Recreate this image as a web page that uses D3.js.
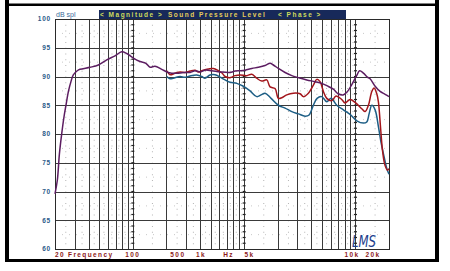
<!DOCTYPE html>
<html>
<head>
<meta charset="utf-8">
<script src="https://cdn.jsdelivr.net/npm/d3@7"></script>
<style>
body { margin:0; background:#fff; }
svg { display:block; }
text { font-family: "Liberation Sans", Arial, sans-serif; }
</style>
</head>
<body>
<svg id="chart" width="450" height="271"></svg>
<script>
window.addEventListener("load", run);

// y axis (dB spl)
var yTicks = [60,65,70,75,80,85,90,95,100];

// bottom labels, and the frequency each one sits over
var xLabels    = ["20","Frequency","100","500","1k","Hz","5k","10k","20k"];
var xLabelFreq = [22.2,41.9,100,254,410,724,1118,9320,14400];

var titleParts = ["< Magnitude >","Sound Pressure Level","< Phase >"];

// purple: full range
var purpleFreq = [20,21.0,21.9,23.0,24.1,25.1,26.4,27.9,29.2,31.7,33.5,41.3,49.0,58.3,69.2,79.5,88.2,101,116,131,
                  143,158,182,208,248,284,327,362,402,445,512,608,747,829,919,1019,1171,1342,1541,1709,
                  1830,2030,2332,2678,3070,3652,4336,4980,5524,6330,6978,7738,8404,9266,10272,10886,11776,12794,13528,15006,
                  16636,18452,20000];
var purpleDb   = [69.6,72.0,76.5,80.1,83.0,85.0,87.4,89.2,90.3,91.0,91.25,91.6,92.0,92.9,93.6,94.3,94.0,93.2,92.6,92.3,
                  91.6,91.8,91.25,90.7,90.55,90.7,90.7,91.0,90.8,91.1,91.0,90.8,90.7,90.95,91.0,91.1,91.4,91.6,91.9,92.3,
                  92.0,91.4,90.7,90.15,89.8,89.4,89.1,88.8,88.4,87.8,87.0,86.8,87.3,88.6,90.2,91.0,90.6,89.9,89.6,88.3,
                  87.4,86.9,86.5];

// red: from 200 Hz
var redFreq = [202,216,239,266,294,327,362,388,430,477,529,587,633,674,747,829,919,1055,1171,1298,
               1439,1597,1709,1895,2030,2177,2414,2768,3178,3404,3774,4186,4492,4808,5148,5524,6126,6694,7532,8066,
               8946,9920,11392,12202,13064,14016,14696,15540,16064,16810,17520,18452,19428,20000];
var redDb   = [91.0,90.3,90.55,90.8,90.7,90.95,91.1,90.8,91.1,91.3,91.4,91.0,90.6,90.0,89.8,90.15,90.26,90.15,90.4,89.7,
               89.2,89.4,88.2,87.9,86.2,86.3,86.8,87.1,87.0,86.5,87.1,88.5,89.5,89.1,87.4,86.2,85.8,86.6,86.0,85.4,
               86.0,85.5,84.4,83.9,85.0,87.4,88.0,87.0,85.6,81.0,77.0,74.5,73.7,74.0];

// blue: from 200 Hz
var blueFreq = [202,216,231,266,294,327,375,416,445,494,548,608,674,747,858,984,1130,1298,1419,1541,
                1745,2030,2332,2678,3070,3526,3830,4186,4518,4980,5524,6036,6792,7786,8946,10272,11776,12632,13250,14016,
                15006,16064,16984,17812,19110,20000];
var blueDb   = [90.0,89.6,89.7,90.0,89.85,90.1,90.26,90.0,89.7,90.26,90.3,89.9,89.4,89.0,88.8,88.3,87.5,86.5,86.8,87.1,
                86.2,85.0,84.5,83.9,83.5,83.1,83.3,85.0,86.2,86.5,85.6,86.2,85.0,84.2,83.4,82.3,81.9,82.1,83.5,85.0,
                84.2,81.3,78.5,76.6,74.0,73.0];

function run() {
	var svg = d3.select("#chart");

	var left = 55, right = 389, top = 19, bottom = 249;

	var x = d3.scaleLog().domain([20,20000]).range([left,right]);
	var y = d3.scaleLinear().domain([60,100]).range([bottom,top]);

	// outer black frame
	svg.append("rect").attr("x",5).attr("y",0).attr("width",4).attr("height",262).style("fill","#000");
	svg.append("rect").attr("x",435).attr("y",0).attr("width",4).attr("height",262).style("fill","#000");
	svg.append("rect").attr("x",5).attr("y",3.5).attr("width",434).attr("height",2.5).style("fill","#000");
	svg.append("rect").attr("x",5).attr("y",259).attr("width",434).attr("height",3).style("fill","#000");

	// grid frequencies
	var solid = [], dotted = [], decades = [100,1000,10000];
	[10,100,1000,10000].forEach(function(d){
		for (var m = 1; m <= 9; m++) {
			if (m*d >= 20 && m*d <= 20000) solid.push(m*d);
			if ((m+0.5)*d > 20 && (m+0.5)*d < 20000) dotted.push((m+0.5)*d);
		}
	});

	var grid = svg.append("g");

	// dotted minor grid
	grid.selectAll(".vdot").data(dotted).enter().append("line")
		.attr("x1",function(d){return x(d);}).attr("x2",function(d){return x(d);})
		.attr("y1",top).attr("y2",bottom)
		.style("stroke","#b4b4b4").style("stroke-width",1)
		.style("stroke-dasharray","1,4.75");

	var halfDb = d3.range(62.5,100,5);
	grid.selectAll(".hdot").data(halfDb).enter().append("line")
		.attr("x1",left).attr("x2",right)
		.attr("y1",function(d){return y(d);}).attr("y2",function(d){return y(d);})
		.style("stroke","#c8c8c8").style("stroke-width",1)
		.style("stroke-dasharray","1,6");

	// solid grid
	grid.selectAll(".vsolid").data(solid).enter().append("line")
		.attr("x1",function(d){return Math.round(x(d))+0.5;}).attr("x2",function(d){return Math.round(x(d))+0.5;})
		.attr("y1",top).attr("y2",bottom)
		.style("stroke","#3a3a3a").style("stroke-width",1);

	grid.selectAll(".hsolid").data(yTicks).enter().append("line")
		.attr("x1",left).attr("x2",right)
		.attr("y1",function(d){return Math.round(y(d))+0.5;}).attr("y2",function(d){return Math.round(y(d))+0.5;})
		.style("stroke","#3a3a3a").style("stroke-width",1);

	// decade lines get 1 dB tick marks
	var dbSteps = d3.range(61,100,1);
	decades.forEach(function(f){
		grid.selectAll(null).data(dbSteps).enter().append("line")
			.attr("x1",x(f)-1.5).attr("x2",x(f)+1.5)
			.attr("y1",function(d){return y(d);}).attr("y2",function(d){return y(d);})
			.style("stroke","#222").style("stroke-width",1.2);
	});

	// plot border
	svg.append("rect")
		.attr("x",left+0.5).attr("y",top+0.5)
		.attr("width",right-left).attr("height",bottom-top)
		.style("fill","none").style("stroke","#2a2a2a").style("stroke-width",1);

	// curves
	var line = d3.line()
		.x(function(d){return x(d[0]);})
		.y(function(d){return y(d[1]);})
		.curve(d3.curveCatmullRom.alpha(0.5));

	var series = [
		{f: blueFreq, v: blueDb, c: "#1d5e85"},
		{f: redFreq, v: redDb, c: "#a3161c"},
		{f: purpleFreq, v: purpleDb, c: "#5c1d61"}
	];
	series.forEach(function(s){
		svg.append("path")
			.datum(d3.zip(s.f, s.v))
			.attr("d", line)
			.style("fill","none")
			.style("stroke", s.c)
			.style("stroke-width",1.5)
			.style("stroke-linejoin","round");
	});

	// y tick labels
	svg.selectAll(".ylab").data(yTicks).enter().append("text")
		.attr("x",51)
		.attr("y",function(d){return y(d);})
		.attr("dy","0.35em")
		.style("text-anchor","end")
		.style("font-size","6.5px")
		.style("font-weight","bold")
		.style("letter-spacing","0.8px")
		.style("fill","#2b5a88")
		.text(function(d){return d;});

	// x labels
	svg.selectAll(".xlab").data(xLabels).enter().append("text")
		.attr("x",function(d,i){return x(xLabelFreq[i]);})
		.attr("y",257)
		.style("text-anchor","middle")
		.style("font-size","6.5px")
		.style("font-weight","bold")
		.style("letter-spacing","1.4px")
		.style("fill","#8e1a1a")
		.text(function(d){return d;});

	// unit label
	svg.append("text")
		.attr("x",56).attr("y",16.5)
		.style("font-size","7px")
		.style("fill","#3d6a9a")
		.text("dB spl");

	// title bar
	svg.append("rect")
		.attr("x",99).attr("y",10)
		.attr("width",247).attr("height",9)
		.style("fill","#17295a");

	var titleX = [100,168,278];
	var titleCol = ["#cfdc5c","#e6cf5a","#cfdc5c"];
	svg.selectAll(".title").data(titleParts).enter().append("text")
		.attr("x",function(d,i){return titleX[i];})
		.attr("y",17)
		.style("font-size","6.5px")
		.style("font-weight","bold")
		.style("letter-spacing","1.5px")
		.style("fill",function(d,i){return titleCol[i];})
		.text(function(d){return d;});

	// signature
	svg.append("text")
		.attr("x",352).attr("y",247)
		.attr("textLength",24)
		.attr("lengthAdjust","spacingAndGlyphs")
		.style("font-family","'DejaVu Sans', sans-serif")
		.style("font-style","italic")
		.style("font-weight","200")
		.style("font-size","15px")
		.style("fill","#1e3f8e")
		.text("LMS");
}
</script>
</body>
</html>
